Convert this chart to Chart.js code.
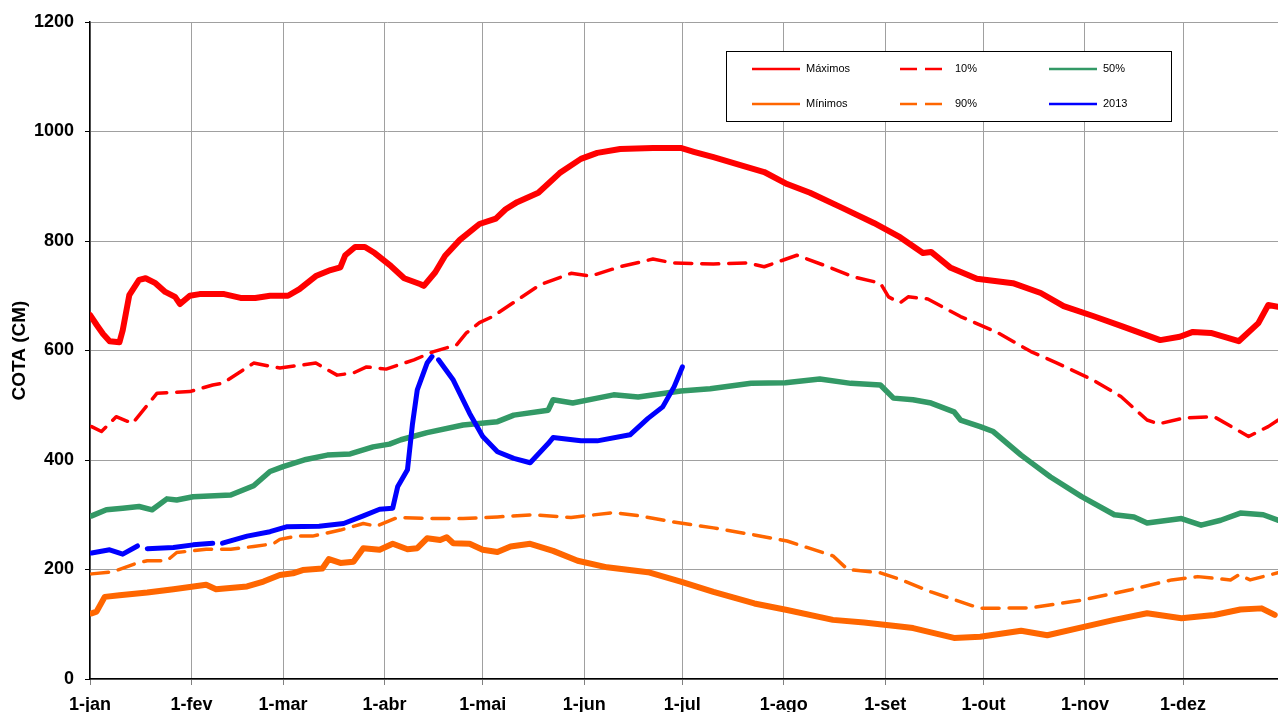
<!DOCTYPE html>
<html lang="pt">
<head>
<meta charset="utf-8">
<title>Cota (cm)</title>
<script src="https://cdn.jsdelivr.net/npm/chart.js@4/dist/chart.umd.min.js"></script>
<style>
  html, body { margin: 0; padding: 0; background: #fff; }
  #wrap { width: 1278px; height: 712px; position: relative; overflow: hidden; }
</style>
</head>
<body>
<div id="wrap"><canvas id="cota" width="1278" height="712"></canvas></div>
<script>
// eixo x: dia do ano (0 = 1-jan)
const monthDays = [0, 31, 59, 90, 120, 151, 181, 212, 243, 273, 304, 334];
const monthLabels = ['1-jan', '1-fev', '1-mar', '1-abr', '1-mai', '1-jun', '1-jul', '1-ago', '1-set', '1-out', '1-nov', '1-dez'];
const yTicks = [0, 200, 400, 600, 800, 1000, 1200];

// Máximos
const maxDays = [0, 2, 4, 6, 9, 10, 12, 15, 17, 20, 23, 26, 27.5, 30.5, 33.5, 41, 46, 50.5, 55, 60.5, 64, 69, 73.5, 76.5, 78, 81, 84, 87, 92, 96, 101, 102, 105.5, 108.5, 113, 119, 124, 127, 130.5, 137, 143.5, 150, 155, 162, 172, 180.5, 184.5, 190.5, 199.5, 206, 213, 220, 230, 239.5, 247.5, 254.5, 257, 263, 271, 282, 290.5, 297.5, 306.5, 315, 327, 333, 337, 342.5, 351, 357, 360, 363];
const maxVals = [665, 647, 630, 617, 615, 637, 701, 729, 732, 723, 707, 698, 685, 700, 703, 703, 696, 696, 700, 700, 712, 736, 747, 752, 774, 789, 789, 778, 754, 732, 721, 718, 743, 773, 802, 831, 841, 858, 871, 888, 924, 950, 961, 968, 970, 970, 963, 953, 937, 926, 904, 888, 860, 833, 807, 778, 780, 751, 731, 723, 705, 681, 663, 645, 619, 625, 634, 632, 617, 650, 683, 680];

// 10%
const p10Days = [0.5, 3.5, 8, 13, 20.5, 30.5, 37.5, 40.5, 50, 58, 69, 75.5, 80.5, 84.5, 90.5, 99, 105, 112, 115, 119, 123, 137.5, 147, 153, 162, 172, 178, 190.5, 201, 206, 216, 225.5, 233, 241.5, 244, 247.5, 250, 256, 266, 277.5, 287.5, 295.5, 306.5, 315, 323, 326.5, 334.5, 343.5, 354, 360, 363];
const p10Vals = [461, 452, 479, 467, 522, 525, 537, 540, 577, 568, 577, 555, 559, 570, 566, 583, 598, 610, 632, 651, 662, 720, 741, 736, 753, 767, 760, 758, 760, 753, 774, 753, 735, 723, 698, 687, 698, 694, 662, 632, 598, 577, 546, 516, 473, 466, 477, 479, 443, 461, 473];

// 50%
const p50Days = [0.5, 5, 10, 15, 19, 23.5, 26.5, 31.5, 43, 50, 55, 59, 66, 72.5, 79.5, 86.5, 91.5, 95, 103, 114, 124.5, 129.5, 140, 141.5, 147.5, 155, 160, 167.5, 180.5, 189.5, 202, 212.5, 223, 232.5, 241.5, 245.5, 251.5, 257, 264, 266, 272, 276, 284.5, 288.5, 293.5, 303, 313, 319, 323, 333.5, 339.5, 345.5, 351.5, 358.5, 363];
const p50Vals = [298, 309, 312, 315, 309, 329, 327, 333, 336, 353, 379, 388, 401, 409, 411, 424, 429, 437, 450, 464, 470, 482, 491, 510, 504, 513, 519, 515, 526, 530, 540, 541, 548, 540, 537, 513, 510, 504, 488, 473, 461, 452, 409, 391, 369, 333, 300, 296, 285, 293, 281, 290, 303, 300, 290];

// Mínimos
const minDays = [0.5, 2, 4.5, 9, 17.5, 25.5, 35.5, 38.5, 48, 53, 58, 62, 65, 71, 73, 76.5, 80.5, 83.5, 88.5, 92.5, 97, 100, 103, 107, 109, 111, 116, 120, 124.5, 128.5, 134.5, 141.5, 149, 158, 170.5, 180.5, 190.5, 203, 213, 227, 236.5, 247.5, 251.5, 264, 272, 284.5, 292.5, 305, 313, 323, 333.5, 343.5, 351.5, 358, 362];
const minVals = [120, 123, 150, 153, 158, 164, 172, 164, 169, 178, 190, 193, 199, 202, 219, 212, 214, 239, 236, 247, 237, 239, 257, 254, 259, 248, 247, 236, 232, 242, 247, 234, 216, 204, 195, 178, 159, 138, 126, 108, 103, 96, 93, 75, 77, 88, 80, 97, 108, 120, 111, 117, 127, 129, 117];

// 90%
const p90Days = [0.5, 7, 14.5, 17.5, 23.5, 26.5, 35.5, 43, 50, 56, 58, 63, 68, 76.5, 83.5, 87.5, 94, 104, 114, 124.5, 135.5, 147, 160, 168, 178, 190.5, 203, 213, 227, 231.5, 241.5, 247.5, 257, 272, 287.5, 303, 318, 330.5, 338.5, 348.5, 351, 354.5, 363];
const p90Vals = [192, 196, 212, 216, 216, 231, 237, 237, 242, 247, 255, 261, 261, 272, 284, 279, 295, 293, 293, 296, 300, 295, 304, 298, 287, 276, 263, 252, 225, 200, 194, 182, 159, 129, 130, 144, 163, 181, 187, 181, 190, 181, 194];

// 2013 (null = falha na série)
const y2013Days = [0.5, 6, 10, 14.5, 15.5, 17.5, 25.5, 31.5, 37.5, 39, 40.5, 48, 55, 60, 70, 77.5, 83.5, 88.5, 92.5, 94, 97, 98.5, 100, 103, 104.5, 105.5, 106.5, 111, 116, 120, 124.5, 129.5, 134.5, 140, 141.5, 150, 155, 165, 170.5, 175, 178.5, 181];
const y2013Vals = [230, 236, 228, 243, null, 238, 240, 245, 248, null, 248, 261, 269, 278, 279, 284, 298, 310, 312, 351, 382, 464, 528, 577, 589, null, 583, 546, 485, 443, 415, 403, 395, 430, 441, 435, 435, 446, 476, 497, 534, 570];

const pts = (xs, ys) => xs.map((x, i) => ({ x, y: ys[i] }));

const legendBox = {
  id: 'legendBox',
  afterDraw(chart, args, opts) {
    const ctx = chart.ctx;
    ctx.save();
    ctx.fillStyle = '#fff';
    ctx.fillRect(opts.x, opts.y, opts.w, opts.h);
    ctx.strokeStyle = '#000';
    ctx.lineWidth = 1;
    ctx.strokeRect(opts.x + 0.5, opts.y + 0.5, opts.w, opts.h);
    ctx.font = '11px "Liberation Sans", Arial, sans-serif';
    ctx.textBaseline = 'middle';
    chart.data.datasets.forEach((ds, i) => {
      const col = i % 3, row = Math.floor(i / 3);
      const lx = opts.x + opts.colX[col];
      const ly = opts.y + opts.rowY[row];
      ctx.strokeStyle = ds.borderColor;
      ctx.lineWidth = 2.5;
      ctx.setLineDash(ds.borderDash ? [17, 8] : []);
      ctx.beginPath();
      ctx.moveTo(lx, ly);
      ctx.lineTo(lx + 48, ly);
      ctx.stroke();
      ctx.setLineDash([]);
      ctx.fillStyle = '#000';
      ctx.fillText(ds.label, lx + opts.textGap[col], ly);
    });
    ctx.restore();
  }
};

const lineSet = (label, data, color, width, dashed, order) => ({
  label,
  data,
  borderColor: color,
  backgroundColor: color,
  borderWidth: width,
  borderDash: dashed ? [17, 10] : undefined,
  borderCapStyle: 'round',
  borderJoinStyle: 'round',
  pointRadius: 0,
  tension: 0,
  spanGaps: false,
  fill: false,
  order
});

const axisFont = { family: '"Liberation Sans", Arial, sans-serif', size: 18, weight: 'bold' };

new Chart(document.getElementById('cota'), {
  type: 'line',
  data: {
    datasets: [
      lineSet('Máximos', pts(maxDays, maxVals), '#FF0000', 6, false, 2),
      lineSet('10%', pts(p10Days, p10Vals), '#FF0000', 3.5, true, 3),
      lineSet('50%', pts(p50Days, p50Vals), '#339966', 5.5, false, 2),
      lineSet('Mínimos', pts(minDays, minVals), '#FF6600', 6, false, 2),
      lineSet('90%', pts(p90Days, p90Vals), '#FF6600', 3.5, true, 3),
      lineSet('2013', pts(y2013Days, y2013Vals), '#0000FF', 5, false, 0)
    ]
  },
  options: {
    responsive: false,
    animation: false,
    devicePixelRatio: 1,
    layout: { padding: { top: 22, right: 0, bottom: 0, left: 0 } },
    plugins: {
      legend: { display: false },
      tooltip: { enabled: false },
      legendBox: { x: 726, y: 51, w: 445, h: 70, colX: [26, 174, 323], rowY: [18, 53], textGap: [54, 55, 54] }
    },
    scales: {
      x: {
        type: 'linear',
        min: 0,
        max: 363,
        afterBuildTicks: (scale) => { scale.ticks = monthDays.map(v => ({ value: v })); },
        afterFit: (scale) => { scale.height = 33; },
        border: { color: '#000', width: 1.5 },
        grid: { color: '#A0A0A0', lineWidth: 1, tickLength: 6, tickColor: '#808080' },
        ticks: {
          autoSkip: false,
          maxRotation: 0,
          padding: 9,
          color: '#000',
          font: axisFont,
          callback: (v) => monthLabels[monthDays.indexOf(v)]
        }
      },
      y: {
        min: 0,
        max: 1200,
        afterBuildTicks: (scale) => { scale.ticks = yTicks.map(v => ({ value: v })); },
        afterFit: (scale) => { scale.width = 90; },
        border: { color: '#000', width: 1.5 },
        grid: { color: '#A0A0A0', lineWidth: 1, tickLength: 5, tickColor: '#000' },
        ticks: {
          padding: 11,
          color: '#000',
          font: axisFont,
          callback: (v) => String(v)
        },
        title: {
          display: true,
          text: 'COTA (CM)',
          color: '#000',
          padding: { top: 8, bottom: 0 },
          font: { family: '"Liberation Sans", Arial, sans-serif', size: 19, weight: 'bold' }
        }
      }
    }
  },
  plugins: [legendBox]
});
</script>
</body>
</html>
